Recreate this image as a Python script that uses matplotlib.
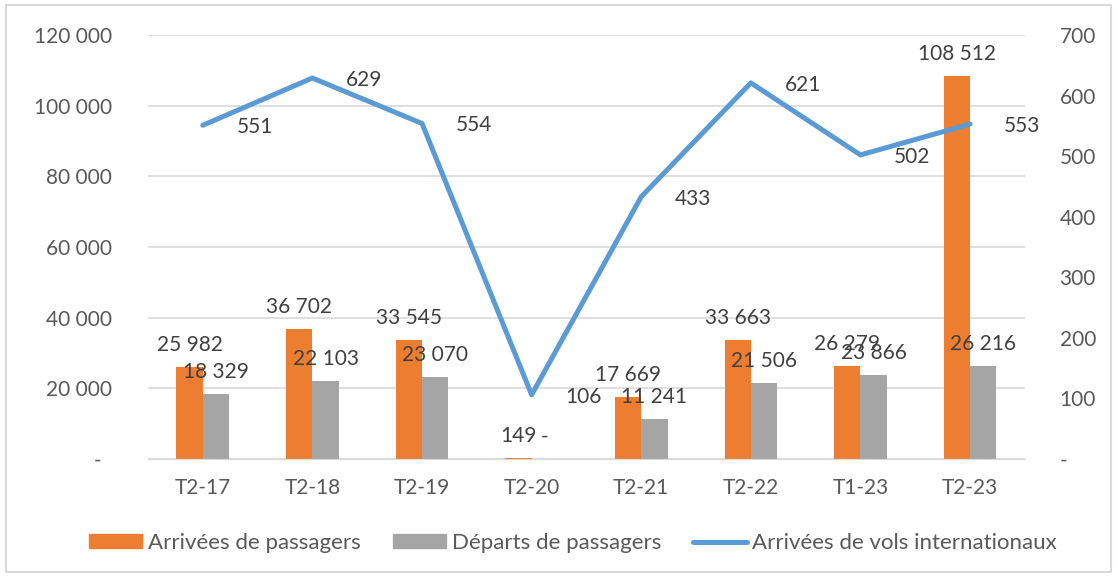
import matplotlib.pyplot as plt
from matplotlib.patches import Patch, Rectangle
from matplotlib.lines import Line2D
from matplotlib.ticker import FuncFormatter
import numpy as np

# ---- data ----
periodes = ['T2-17', 'T2-18', 'T2-19', 'T2-20', 'T2-21', 'T2-22', 'T1-23', 'T2-23']
arrivees_pax = [25982, 36702, 33545, 149, 17669, 33663, 26279, 108512]
departs_pax = [18329, 22103, 23070, 0, 11241, 21506, 23866, 26216]
vols_intl = [551, 629, 554, 106, 433, 621, 502, 553]

ORANGE = '#ED7D31'
GREY = '#A5A5A5'
BLUE = '#5B9BD5'
TXT = '#595959'
LBL = '#404040'

plt.rcParams['font.family'] = ['Lato', 'DejaVu Sans']
plt.rcParams['font.size'] = 15


def fmt_num(v):
    if v == 0:
        return '-'
    return f'{int(v):,}'.replace(',', ' ')


fig = plt.figure(figsize=(11.17, 5.77), dpi=100)
ax = fig.add_axes([0.1325, 0.2045, 0.785, 0.7348])
ax2 = ax.twinx()

x = np.arange(len(periodes))
w = 0.24

b1 = ax.bar(x - w / 2, arrivees_pax, w, color=ORANGE, zorder=2)
b2 = ax.bar(x + w / 2, departs_pax, w, color=GREY, zorder=2)

for bars, vals in ((b1, arrivees_pax), (b2, departs_pax)):
    for r, v in zip(bars, vals):
        ax.annotate(fmt_num(v), (r.get_x() + r.get_width() / 2, v),
                    xytext=(0, 12), textcoords='offset pixels',
                    ha='center', va='bottom', color=LBL, fontsize=15, zorder=5)

ax2.plot(x, vols_intl, color=BLUE, lw=3.6, solid_capstyle='round', zorder=3)
for xi, v in zip(x, vols_intl):
    ax2.annotate(str(v), (xi, v), xytext=(52, -2), textcoords='offset pixels',
                 ha='center', va='center', color=LBL, fontsize=15,
                 annotation_clip=False)

ax.set_xlim(-0.5, len(periodes) - 0.5)
ax.set_ylim(0, 120000)
ax.set_yticks(np.arange(0, 120001, 20000))
ax.yaxis.set_major_formatter(FuncFormatter(lambda v, p: '-  ' if v == 0 else fmt_num(v)))
ax2.set_ylim(0, 700)
ax2.set_yticks(np.arange(0, 701, 100))
ax2.yaxis.set_major_formatter(FuncFormatter(lambda v, p: '-' if v == 0 else f'{int(v)}'))

ax.set_xticks(x)
ax.set_xticklabels(periodes)
ax.grid(axis='y', color='#D9D9D9', lw=1.2, zorder=0)
ax.set_axisbelow(True)

for a in (ax, ax2):
    for s in ('top', 'left', 'right'):
        a.spines[s].set_visible(False)
    a.spines['bottom'].set_color('#D9D9D9')
    a.tick_params(length=0, colors=TXT, labelsize=15)
ax.tick_params(axis='y', pad=26)
ax.tick_params(axis='x', pad=14)
ax2.tick_params(axis='y', pad=25)

handles = [Patch(color=ORANGE), Patch(color=GREY),
           Line2D([], [], color=BLUE, lw=3.6, solid_capstyle='round')]
labels = ['Arrivées de passagers', 'Départs de passagers', 'Arrivées de vols internationaux']
leg = fig.legend(handles, labels, loc='center', bbox_to_anchor=(0.513, 0.059), ncol=3,
                 frameon=False, handlelength=2.4, handleheight=0.6,
                 handletextpad=0.25, columnspacing=1.45, fontsize=16)
for t in leg.get_texts():
    t.set_color(TXT)

fig.patches.append(Rectangle((0.005, 0.008), 0.99, 0.984, transform=fig.transFigure,
                             fill=False, edgecolor='#D9D9D9', lw=1.5))

fig.savefig('out.png', dpi=100)
